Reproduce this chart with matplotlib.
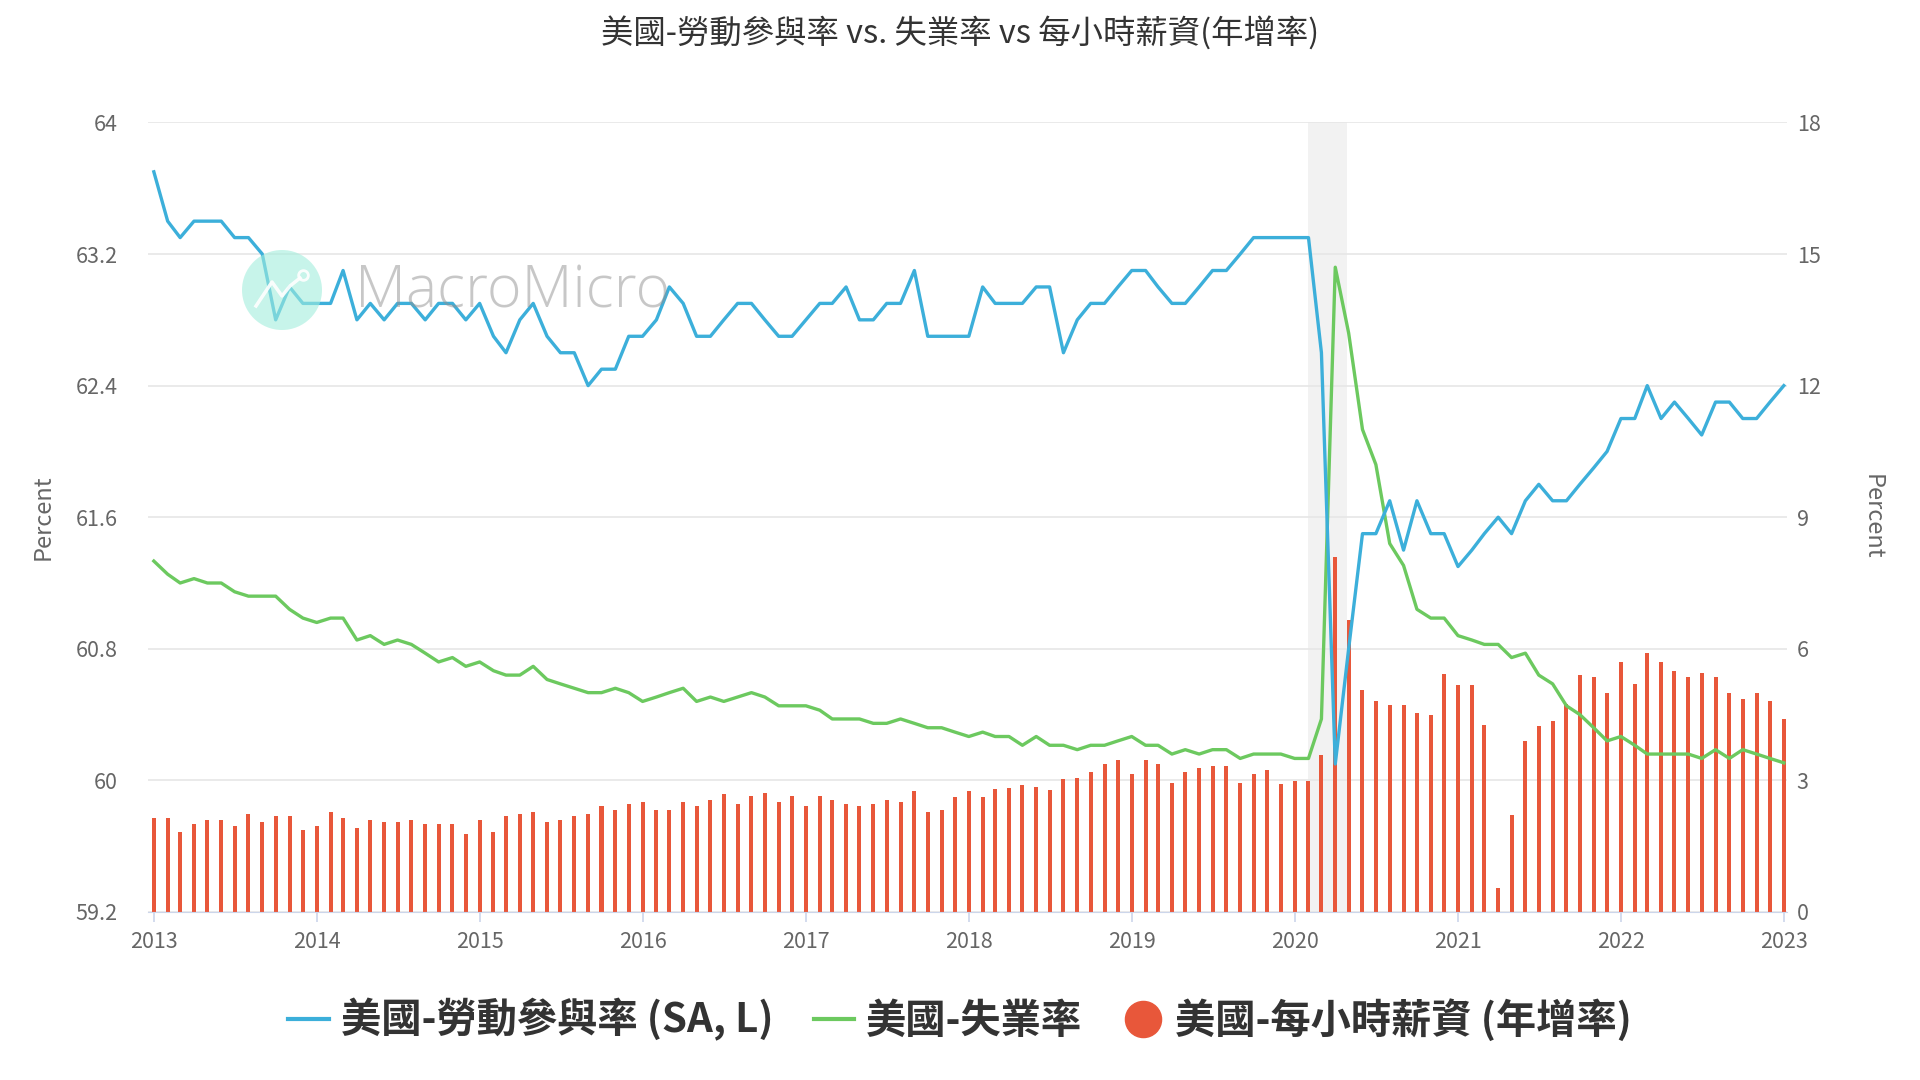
import pandas as pd
import matplotlib
matplotlib.use('Agg')
import matplotlib.pyplot as plt
import matplotlib.dates as mdates
from matplotlib.lines import Line2D
from matplotlib.patches import Ellipse

plt.rcParams['font.family'] = ['Noto Sans CJK TC', 'DejaVu Sans']

blue_color = '#3cafda'
green_color = '#6cc95f'
red_color = '#e8573a'
grid_color = '#e6e6e6'
text_color = '#666666'

title = '美國-勞動參與率 vs. 失業率 vs 每小時薪資(年增率)'
label_lfpr = '美國-勞動參與率 (SA, L)'
label_unemp = '美國-失業率'
label_wage = '美國-每小時薪資 (年增率)'

dates = pd.date_range('2013-01-01', '2023-01-01', freq='MS')

lfpr = [63.7, 63.4, 63.3, 63.4, 63.4, 63.4, 63.3, 63.3, 63.2, 62.8, 63.0, 62.9,
        62.9, 62.9, 63.1, 62.8, 62.9, 62.8, 62.9, 62.9, 62.8, 62.9, 62.9, 62.8,
        62.9, 62.7, 62.6, 62.8, 62.9, 62.7, 62.6, 62.6, 62.4, 62.5, 62.5, 62.7,
        62.7, 62.8, 63.0, 62.9, 62.7, 62.7, 62.8, 62.9, 62.9, 62.8, 62.7, 62.7,
        62.8, 62.9, 62.9, 63.0, 62.8, 62.8, 62.9, 62.9, 63.1, 62.7, 62.7, 62.7,
        62.7, 63.0, 62.9, 62.9, 62.9, 63.0, 63.0, 62.6, 62.8, 62.9, 62.9, 63.0,
        63.1, 63.1, 63.0, 62.9, 62.9, 63.0, 63.1, 63.1, 63.2, 63.3, 63.3, 63.3,
        63.3, 63.3, 62.6, 60.1, 60.8, 61.5, 61.5, 61.7, 61.4, 61.7, 61.5, 61.5,
        61.3, 61.4, 61.5, 61.6, 61.5, 61.7, 61.8, 61.7, 61.7, 61.8, 61.9, 62.0,
        62.2, 62.2, 62.4, 62.2, 62.3, 62.2, 62.1, 62.3, 62.3, 62.2, 62.2, 62.3,
        62.4]

unemp = [8.0, 7.7, 7.5, 7.6, 7.5, 7.5, 7.3, 7.2, 7.2, 7.2, 6.9, 6.7,
         6.6, 6.7, 6.7, 6.2, 6.3, 6.1, 6.2, 6.1, 5.9, 5.7, 5.8, 5.6,
         5.7, 5.5, 5.4, 5.4, 5.6, 5.3, 5.2, 5.1, 5.0, 5.0, 5.1, 5.0,
         4.8, 4.9, 5.0, 5.1, 4.8, 4.9, 4.8, 4.9, 5.0, 4.9, 4.7, 4.7,
         4.7, 4.6, 4.4, 4.4, 4.4, 4.3, 4.3, 4.4, 4.3, 4.2, 4.2, 4.1,
         4.0, 4.1, 4.0, 4.0, 3.8, 4.0, 3.8, 3.8, 3.7, 3.8, 3.8, 3.9,
         4.0, 3.8, 3.8, 3.6, 3.7, 3.6, 3.7, 3.7, 3.5, 3.6, 3.6, 3.6,
         3.5, 3.5, 4.4, 14.7, 13.2, 11.0, 10.2, 8.4, 7.9, 6.9, 6.7, 6.7,
         6.3, 6.2, 6.1, 6.1, 5.8, 5.9, 5.4, 5.2, 4.7, 4.5, 4.2, 3.9,
         4.0, 3.8, 3.6, 3.6, 3.6, 3.6, 3.5, 3.7, 3.5, 3.7, 3.6, 3.5,
         3.4]

wage = [2.14, 2.14, 1.82, 2.00, 2.10, 2.10, 1.96, 2.23, 2.05, 2.19, 2.19, 1.87,
        1.96, 2.28, 2.14, 1.91, 2.10, 2.05, 2.05, 2.10, 2.00, 2.00, 2.00, 1.78,
        2.10, 1.82, 2.19, 2.23, 2.28, 2.05, 2.10, 2.19, 2.24, 2.42, 2.33, 2.47,
        2.51, 2.33, 2.33, 2.51, 2.42, 2.56, 2.70, 2.47, 2.65, 2.72, 2.51, 2.65,
        2.42, 2.65, 2.56, 2.47, 2.42, 2.47, 2.56, 2.51, 2.75, 2.28, 2.33, 2.62,
        2.75, 2.62, 2.80, 2.82, 2.90, 2.86, 2.78, 3.02, 3.05, 3.19, 3.38, 3.47,
        3.15, 3.47, 3.38, 2.95, 3.19, 3.28, 3.33, 3.33, 2.95, 3.15, 3.24, 2.92,
        2.98, 2.98, 3.57, 8.09, 6.66, 5.05, 4.82, 4.72, 4.72, 4.54, 4.49, 5.42,
        5.18, 5.18, 4.26, 0.55, 2.20, 3.90, 4.25, 4.35, 4.75, 5.40, 5.35, 5.00,
        5.70, 5.20, 5.90, 5.70, 5.50, 5.35, 5.45, 5.35, 5.00, 4.85, 5.00, 4.80,
        4.40]

left_ticks = [59.2, 60, 60.8, 61.6, 62.4, 63.2, 64]
left_ticklabels = ['59.2', '60', '60.8', '61.6', '62.4', '63.2', '64']
right_ticks = [0, 3, 6, 9, 12, 15, 18]
years = list(range(2013, 2024))
recession = ('2020-02-01', '2020-04-28')


def main():

    fig = plt.figure(figsize=(19.2, 10.8), dpi=100)
    # back axis (right scale): grid, shading, bars, unemployment
    ax2 = fig.add_axes([0.0771, 0.1556, 0.8536, 0.731])
    ax = ax2.twinx()
    ax.yaxis.tick_left()
    ax.yaxis.set_label_position('left')
    ax2.yaxis.tick_right()
    ax2.yaxis.set_label_position('right')
    ax.set_zorder(ax2.get_zorder() + 1)
    ax.patch.set_visible(False)

    ax2.axvspan(pd.Timestamp(recession[0]), pd.Timestamp(recession[1]),
                color='#f2f2f2', zorder=0.4, lw=0)
    ax2.bar(dates, wage, width=9, color=red_color, zorder=2)
    ax2.plot(dates, unemp, color=green_color, lw=2.4, zorder=3,
             solid_joinstyle='round')
    ax.plot(dates, lfpr, color=blue_color, lw=2.4, zorder=3,
            solid_joinstyle='round')

    ax2.set_ylim(0, 18)
    ax2.set_yticks(right_ticks)
    ax2.grid(axis='y', color=grid_color, lw=1.2)
    ax2.set_axisbelow(True)
    ax.set_ylim(59.2, 64)
    ax.set_yticks(left_ticks)
    ax.set_yticklabels(left_ticklabels)

    ax2.set_xlim(pd.Timestamp('2012-12-19'), pd.Timestamp('2023-01-08'))
    ax2.set_xticks([pd.Timestamp(f'{y}-01-01') for y in years])
    ax2.xaxis.set_major_formatter(mdates.DateFormatter('%Y'))

    for axis in (ax, ax2):
        for side in ('top', 'left', 'right', 'bottom'):
            axis.spines[side].set_visible(False)
    ax2.spines['bottom'].set_visible(True)
    ax2.spines['bottom'].set_color('#ccd6eb')
    ax2.tick_params(axis='x', colors='#ccd6eb', length=7, width=1.2,
                    labelcolor=text_color, labelsize=15.5, pad=7)
    ax2.tick_params(axis='y', length=0, labelcolor=text_color,
                    labelsize=15.5, pad=7)
    ax.tick_params(axis='y', length=0, labelcolor=text_color,
                   labelsize=15.5, pad=22)

    ax.set_ylabel('Percent', color=text_color, fontsize=17)
    ax.yaxis.set_label_coords(-0.057, 0.5)
    ax2.set_ylabel('Percent', color=text_color, fontsize=17, rotation=270,
                   va='bottom')
    ax2.yaxis.set_label_coords(1.045, 0.5)

    fig.text(0.5, 1 - 33 / 1080, title, ha='center', va='center',
             fontsize=23.3, color='#333333')

    # watermark
    W, H = 1920., 1080.
    fig.patches.append(Ellipse((282 / W, 1 - 290 / H), 80 / W, 80 / H,
                               transform=fig.transFigure, color='#a3eedc',
                               alpha=0.6, zorder=10, lw=0))
    icon_x = [256, 272, 282, 290, 300]
    icon_y = [306, 282, 296, 286, 278]
    fig.lines.append(Line2D([x / W for x in icon_x], [1 - y / H for y in icon_y],
                            transform=fig.transFigure, color='white', lw=2.5,
                            alpha=0.9, zorder=11))
    fig.lines.append(Line2D([303 / W], [1 - 275 / H], transform=fig.transFigure,
                            marker='o', ms=7, mfc='none', mec='white', mew=2,
                            alpha=0.9, zorder=11))
    fig.text(355 / W, 1 - 292 / H, 'MacroMicro', ha='left', va='center',
             fontsize=42.5, color='#919191', alpha=0.5, family='Open Sans',
             fontweight='light', zorder=10)

    handles = [Line2D([], [], color=blue_color, lw=3),
               Line2D([], [], color=green_color, lw=3),
               Line2D([], [], color=red_color, marker='o', ms=26, ls='none')]
    fig.legend(handles, [label_lfpr, label_unemp, label_wage], loc='center',
               bbox_to_anchor=(0.5, 1 - 1020 / 1080), ncol=3, frameon=False,
               handlelength=1.0, handletextpad=0.3, columnspacing=1.0,
               prop={'size': 29, 'weight': 'bold'}, labelcolor='#333333')

    fig.savefig('out.png', dpi=100)


if __name__ == "__main__":
    main()
